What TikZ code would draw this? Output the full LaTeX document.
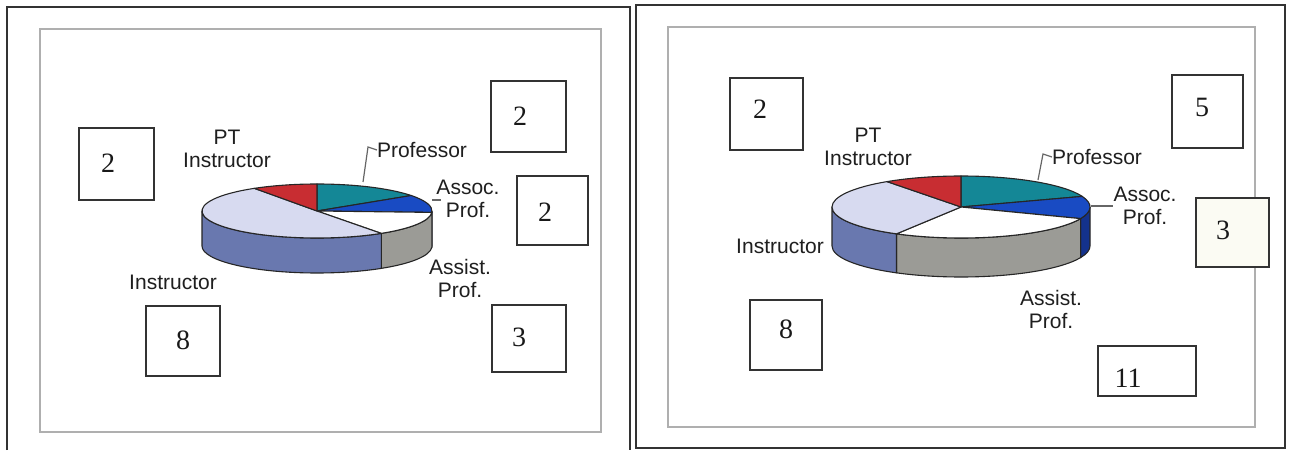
\documentclass[tikz,border=0pt]{standalone}
\usepackage{fontspec}
\setmainfont{Liberation Serif}
\newfontfamily\arialf{Liberation Sans}
\definecolor{ptred}{RGB}{200,45,50}
\definecolor{profteal}{RGB}{20,135,150}
\definecolor{assocblue}{RGB}{25,75,195}
\definecolor{assocside}{RGB}{20,50,140}
\definecolor{assistgray}{RGB}{155,155,150}
\definecolor{instrtop}{RGB}{215,218,240}
\definecolor{instrside}{RGB}{105,120,175}
\definecolor{framegray}{RGB}{51,51,51}
\definecolor{innergray}{RGB}{175,175,175}
\definecolor{cream}{RGB}{251,251,243}
\newcommand\slicetop[7]{%
  \filldraw[fill=#7, pieline] (#1,#2) -- ++(#5:#3 and #4) arc[start angle=#5,end angle=#6,x radius=#3,y radius=#4] -- cycle;}
\newcommand\sliceside[8]{%
  \filldraw[fill=#7, pieline] (#1,#2) ++(#5:#3 and #4) arc[start angle=#5,end angle=#6,x radius=#3,y radius=#4] -- ++(0,-#8) arc[start angle=#6,end angle=#5,x radius=#3,y radius=#4] -- cycle;}
\tikzset{
  pieline/.style={draw=black!85, line width=1.1pt, line join=round},
  outerframe/.style={draw=framegray, line width=2.6pt},
  innerframe/.style={draw=innergray, line width=1.8pt},
  numbox/.style={draw=black!80, line width=1.6pt, fill=white, inner sep=0pt},
  digit/.style={font=\fontsize{28}{30}\selectfont, inner sep=0pt, text=black!90},
  lbl/.style={font=\arialf\fontsize{21}{23}\selectfont, align=center, inner sep=0pt, text=black!88},
  leader/.style={draw=black!60, line width=1.2pt},
}
\begin{document}
\begin{tikzpicture}[x=1pt,y=1pt]
\useasboundingbox (0,0) rectangle (1292,450);
\fill[white] (0,0) rectangle (1292,450);
% outer frames
\draw[outerframe] (7,0) -- (7,443) -- (630,443) -- (630,0);
\draw[outerframe] (636,2) rectangle (1285,445);
% inner frames
\draw[innerframe] (40,18) rectangle (601,421);
\draw[innerframe] (668,23) rectangle (1255,423);

% ---------- left pie ----------
\sliceside{317}{239}{115}{27}{0}{-3}{assocside}{35}
\sliceside{317}{239}{115}{27}{-3}{-56}{assistgray}{35}
\sliceside{317}{239}{115}{27}{-56}{-180}{instrside}{35}
\slicetop{317}{239}{115}{27}{90}{35}{profteal}
\slicetop{317}{239}{115}{27}{35}{-3}{assocblue}
\slicetop{317}{239}{115}{27}{-3}{-56}{white}
\slicetop{317}{239}{115}{27}{-56}{-237}{instrtop}
\slicetop{317}{239}{115}{27}{123}{90}{ptred}

% ---------- right pie ----------
\sliceside{961}{243}{129}{31}{0}{-22}{assocside}{39}
\sliceside{961}{243}{129}{31}{-22}{-120}{assistgray}{39}
\sliceside{961}{243}{129}{31}{-120}{-180}{instrside}{39}
\slicetop{961}{243}{129}{31}{90}{20}{profteal}
\slicetop{961}{243}{129}{31}{20}{-22}{assocblue}
\slicetop{961}{243}{129}{31}{-22}{-120}{white}
\slicetop{961}{243}{129}{31}{-120}{-235}{instrtop}
\slicetop{961}{243}{129}{31}{125}{90}{ptred}

% ---------- left labels ----------
\node[lbl] (lpt) at (227,301) {PT\\Instructor};
\node[lbl] (lprof) at (422,300) {Professor};
\node[lbl] (lassoc) at (468,251) {Assoc.\\Prof.};
\node[lbl] (lassist) at (460,172) {Assist.\\Prof.};
\node[lbl] (linstr) at (173,168) {Instructor};
\coordinate (lpa) at (363,268);
\coordinate (lpb) at (368,303);
\draw[leader] (lpa) -- (lpb) -- (lprof.west);
\coordinate (laa) at (432,250);
\coordinate (lab) at (441,250);
\draw[leader] (laa) -- (lab);

% ---------- right labels ----------
\node[lbl] (rpt) at (868,303) {PT\\Instructor};
\node[lbl] (rprof) at (1097,293) {Professor};
\node[lbl] (rassoc) at (1145,244) {Assoc.\\Prof.};
\node[lbl] (rassist) at (1051,141) {Assist.\\Prof.};
\node[lbl] (rinstr) at (780,204) {Instructor};
\coordinate (rpa) at (1038,270);
\coordinate (rpb) at (1043,296);
\draw[leader] (rpa) -- (rpb) -- (rprof.west);
\coordinate (raa) at (1091,244);
\draw[leader] (raa) -- (rassoc.west |- raa);

% ---------- boxes left ----------
\node[numbox, minimum width=75pt, minimum height=72pt] (b1) at (116.5,286) {};
\node[digit] (d1) at (108,287) {2};
\node[numbox, minimum width=75pt, minimum height=71pt] (b2) at (528.5,333.5) {};
\node[digit] (d2) at (520,334) {2};
\node[numbox, minimum width=71pt, minimum height=69pt] (b3) at (552.5,239.5) {};
\node[digit] (d3) at (545,238) {2};
\node[numbox, minimum width=74pt, minimum height=70pt] (b4) at (183,109) {};
\node[digit] (d4) at (183,110) {8};
\node[numbox, minimum width=74pt, minimum height=67pt] (b5) at (529,111.5) {};
\node[digit] (d5) at (519,113) {3};

% ---------- boxes right ----------
\node[numbox, minimum width=73pt, minimum height=72pt] (b6) at (766.5,336) {};
\node[digit] (d6) at (760,341) {2};
\node[numbox, minimum width=71pt, minimum height=73pt] (b7) at (1207.5,338.5) {};
\node[digit] (d7) at (1202,343) {5};
\node[numbox, fill=cream, minimum width=73pt, minimum height=69pt] (b8) at (1232.5,217.5) {};
\node[digit] (d8) at (1223,220) {3};
\node[numbox, minimum width=72pt, minimum height=70pt] (b9) at (786,115) {};
\node[digit] (d9) at (786,121) {8};
\node[numbox, minimum width=98pt, minimum height=50pt] (b10) at (1147,79) {};
\node[digit] (d10) at (1128,72) {11};
\end{tikzpicture}
\end{document}
